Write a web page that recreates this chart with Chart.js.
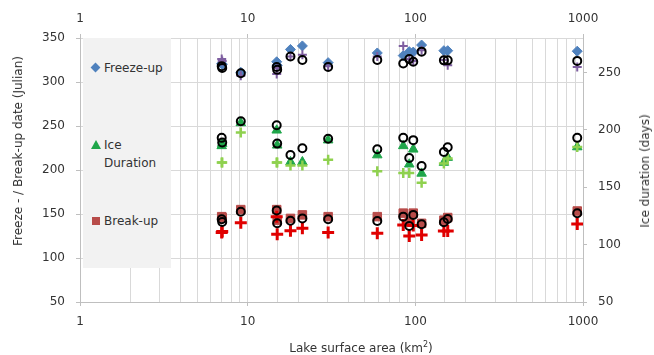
<!DOCTYPE html>
<html>
<head>
<meta charset="utf-8">
<script src="https://cdn.jsdelivr.net/npm/chart.js@4"></script>
<style>
body { margin: 0; background: #fff; }
#wrap { position: relative; width: 654px; height: 355px; font-family: "DejaVu Sans", sans-serif; font-size: 12px; color: #333; }
.legend { position: absolute; left: 83px; top: 38px; width: 88px; height: 230px; background: #f2f2f2; }
.item { position: absolute; left: 21px; line-height: 18px; }
.mk { position: absolute; }
.title { position: absolute; white-space: nowrap; transform: translate(-50%, -50%); }
.rot { transform: translate(-50%, -50%) rotate(-90deg); }
sup { font-size: 8px; line-height: 0; vertical-align: 5px; }
</style>
</head>
<body>
<div id="wrap">
  <canvas id="myChart"></canvas>
  <div class="legend">
    <div class="mk" style="left:9px;top:26px;width:7px;height:7px;background:#4f81bd;transform:rotate(45deg)"></div>
    <div class="item" style="top:21px">Freeze-up</div>
    <div class="mk" style="left:8px;top:102px;width:0;height:0;border-left:5px solid transparent;border-right:5px solid transparent;border-bottom:9px solid #1fa64a"></div>
    <div class="item" style="top:98px">Ice<br>Duration</div>
    <div class="mk" style="left:9px;top:179px;width:8px;height:8px;background:#b84c4a"></div>
    <div class="item" style="top:174px">Break-up</div>
  </div>
  <div class="title" style="left:361px;top:348px">Lake surface area (km<sup>2</sup>)</div>
  <div class="title rot" style="left:18px;top:151px">Freeze - / Break-up date (Julian)</div>
  <div class="title rot" style="left:645px;top:171px">Ice duration (days)</div>
</div>
<script>
const lakeArea = [7.0, 7.05, 9.1, 14.9, 15.0, 18.0, 21.2, 30.2, 59.3, 84.7, 92, 97.2, 109, 148, 156, 924];

const freezeUpObs = [321, 320, 311, 323, 319, 337, 341, 322, 333, 330, 334.5, 334, 342, 335.6, 335.6, 335];
const freezeUpCross = [326, 324, 307, 309, 316, 329, 331, 318, 329, 341, 326, 324, 336, 325, 319, 317];
const freezeUpCircle = [318, 316, 310, 317, 314, 329, 325, 317, 325, 321, 326, 323, 334.5, 324.6, 324.6, 324];

const iceDurObs = [186, 188, 206, 199.6, 186.5, 172, 172, 191, 178, 186, 170, 183, 162, 171.5, 175.8, 185];
const iceDurCross = [171.5, 171.5, 197.6, 171.5, 171.5, 169, 169, 174, 164, 162.4, 162.4, null, 154, 170.6, 175, 185];
const iceDurCircle = [193, 189, 207.4, 204, 188, 178, 184, 192.3, 183, 193, 175.5, 191, 168.5, 180.7, 184.8, 193];

const breakUpObs = [147, 146, 155, 155, 143, 145, 149, 147, 147, 151, 141, 151, 139.4, 143, 146, 153.4];
const breakUpCross = [129, 130, 140, 147, 127, 131, 133.7, 129, 128, 137.5, 125, 137, 126, 130.7, 130.7, 138.6];
const breakUpCircle = [144, 141, 152.6, 154, 139.4, 142.4, 145, 144, 142, 147, 136.4, 149, 138.3, 140.6, 144.3, 150.8];

const majorTicks = [1, 10, 100, 1000];

function pts(arr) {
	return lakeArea.map((x, i) => ({ x: x, y: arr[i] }));
}

function ring(arr, axis) {
	return { data: pts(arr), yAxisID: axis, pointStyle: 'circle', pointRadius: 4, borderWidth: 2,
		borderColor: '#000', backgroundColor: 'rgba(0,0,0,0)' };
}
function cross(arr, axis, color, r, w) {
	return { data: pts(arr), yAxisID: axis, pointStyle: 'cross', pointRadius: r, borderWidth: w,
		borderColor: color, backgroundColor: color };
}
function mark(arr, axis, style, color, r) {
	return { data: pts(arr), yAxisID: axis, pointStyle: style, pointRadius: r, borderWidth: 1,
		borderColor: color, backgroundColor: color };
}

const majorColor = ctx => (ctx.tick && majorTicks.includes(ctx.tick.value)) ? '#bfbfbf' : 'rgba(0,0,0,0)';
const majorLabel = v => majorTicks.includes(v) ? String(v) : '';

Chart.defaults.font.family = '"DejaVu Sans", sans-serif';
Chart.defaults.font.size = 12;
Chart.defaults.color = '#333';

var ctx = document.getElementById("myChart").getContext('2d');
var myChart = new Chart(ctx, {
	type: 'scatter',
	data: {
		datasets: [
			ring(freezeUpCircle, 'y'),
			ring(iceDurCircle, 'y2'),
			ring(breakUpCircle, 'y'),
			cross(freezeUpCross, 'y', '#7e5ea0', 4.5, 2),
			cross(iceDurCross, 'y2', '#8fd14f', 5, 2.5),
			cross(breakUpCross, 'y', '#e00000', 6, 3),
			mark(freezeUpObs, 'y', 'rectRot', '#4f81bd', 5),
			mark(iceDurObs, 'y2', 'triangle', '#1fa64a', 5.5),
			mark(breakUpObs, 'y', 'rect', '#b84c4a', 6)
		]
	},
	options: {
		responsive: true,
		maintainAspectRatio: false,
		animation: false,
		layout: { padding: 0 },
		plugins: { legend: { display: false }, tooltip: { enabled: false } },
		scales: {
			x: {
				type: 'logarithmic', position: 'bottom', min: 1, max: 1000,
				grid: { color: '#d9d9d9', tickLength: 4, tickColor: majorColor },
				border: { color: '#bfbfbf' },
				ticks: { autoSkip: false, maxRotation: 0, padding: 9, callback: majorLabel },
				afterFit: s => { s.height = 53; }
			},
			xTop: {
				type: 'logarithmic', position: 'top', min: 1, max: 1000,
				grid: { drawOnChartArea: false, tickLength: 4, tickColor: majorColor },
				border: { display: false },
				ticks: { autoSkip: false, maxRotation: 0, padding: 8, callback: majorLabel },
				afterFit: s => { s.height = 38; }
			},
			y: {
				position: 'left', min: 50, max: 350,
				grid: { color: '#d9d9d9', tickLength: 4, tickColor: '#bfbfbf' },
				border: { color: '#bfbfbf' },
				ticks: { stepSize: 50, padding: 11 },
				afterFit: s => { s.width = 80; }
			},
			y2: {
				position: 'right', min: 50, max: 280,
				grid: { drawOnChartArea: false, tickLength: 4, tickColor: '#bfbfbf' },
				border: { color: '#bfbfbf' },
				ticks: { stepSize: 50, includeBounds: false, padding: 11 },
				afterFit: s => { s.width = 71; }
			}
		}
	}
});
</script>
</body>
</html>
